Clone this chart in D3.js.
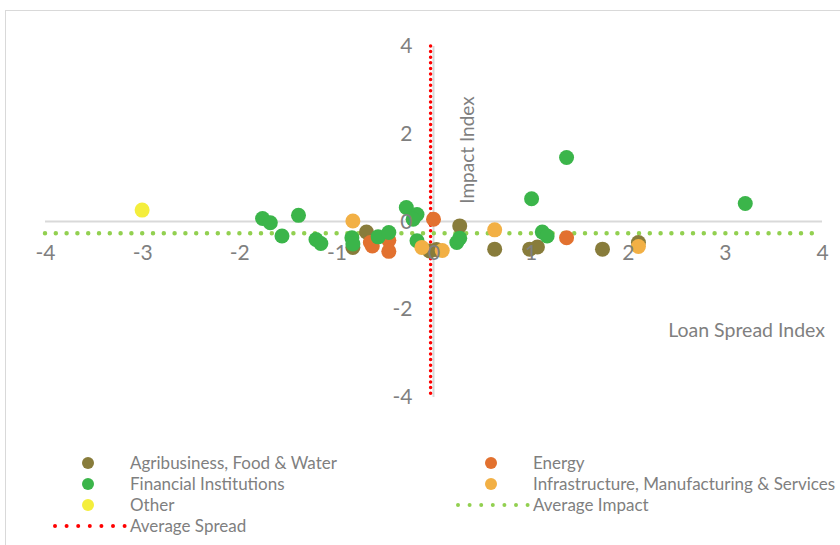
<!DOCTYPE html>
<html>
<head>
  <meta charset="utf-8">
  <script src="https://d3js.org/d3.v7.min.js"></script>
  <style>
    body { margin: 0; background: #fff; }
    text { font-family: Lato, "Open Sans", sans-serif; fill: #7f7f7f; }
  </style>
</head>
<body>
<svg id="chart" width="840" height="545"></svg>
<script>
// series: [loan spread index, impact index]
var agribusiness = [[-0.69,-0.24],[-0.83,-0.59],[-0.04,-0.67],[0.03,-0.64],[0.27,-0.10],
                    [0.63,-0.63],[0.99,-0.63],[1.07,-0.58],[1.74,-0.63],[2.11,-0.48]];
var energy = [[0.00,0.05],[-0.65,-0.48],[-0.63,-0.56],[-0.46,-0.43],[-0.46,-0.68],[1.37,-0.37]];
var financial = [[-1.76,0.07],[-1.68,-0.03],[-1.56,-0.33],[-1.39,0.14],[-1.21,-0.41],[-1.16,-0.50],
                 [-0.84,-0.37],[-0.83,-0.51],[-0.57,-0.35],[-0.46,-0.25],[-0.28,0.32],[-0.17,0.16],
                 [-0.21,0.05],[-0.17,-0.44],[0.24,-0.48],[0.27,-0.38],[1.01,0.52],[1.12,-0.24],
                 [1.17,-0.33],[1.37,1.46],[3.21,0.41]];
var infrastructure = [[-0.83,0.01],[-0.12,-0.59],[0.09,-0.66],[0.63,-0.19],[2.11,-0.57]];
var other = [[-3.00,0.26]];
var averageSpread = -0.03;
var averageImpact = -0.27;

var seriesNames = ["Agribusiness, Food & Water","Energy","Financial Institutions",
                   "Infrastructure, Manufacturing & Services","Other"];
var seriesColors = ["#887c3b","#e2712f","#3bb54a","#f2b045","#f4ee3c"];
var seriesData = [agribusiness, energy, financial, infrastructure, other];

var xTicks = [-4,-3,-2,-1,0,1,2,3,4];
var yTicks = [-4,-2,0,2,4];

var svg = d3.select("#chart");

// chart frame
svg.append("rect").attr("x",5.5).attr("y",10.5).attr("width",900).attr("height",600)
   .attr("fill","none").attr("stroke","#d9d9d9");

var x = d3.scaleLinear().domain([-4,4]).range([45,822]);
var y = d3.scaleLinear().domain([-4,4]).range([397,46]);

// axis lines
svg.append("line").attr("x1",x(-4)).attr("x2",x(4)).attr("y1",y(0)).attr("y2",y(0))
   .attr("stroke","#d9d9d9").attr("stroke-width",2);
svg.append("line").attr("x1",x(0)).attr("x2",x(0)).attr("y1",y(-4)).attr("y2",y(4))
   .attr("stroke","#d9d9d9").attr("stroke-width",2);

// average lines
svg.append("line").attr("x1",x(-4)).attr("x2",x(4))
   .attr("y1",y(averageImpact)).attr("y2",y(averageImpact))
   .attr("stroke","#92d050").attr("stroke-width",4.5).attr("stroke-linecap","round")
   .attr("stroke-dasharray","0 10.8");
svg.append("line").attr("x1",x(averageSpread)).attr("x2",x(averageSpread))
   .attr("y1",y(4)).attr("y2",y(-4))
   .attr("stroke","#ff0000").attr("stroke-width",3.5).attr("stroke-linecap","round")
   .attr("stroke-dasharray","0 5.6");

// points
seriesData.forEach(function(pts, i) {
  svg.append("g").selectAll("circle").data(pts).enter().append("circle")
     .attr("cx", d => x(d[0])).attr("cy", d => y(d[1])).attr("r", 7.5)
     .attr("fill", seriesColors[i]);
});

// tick labels (plain hyphen minus, like the original)
var fmt = d => String(d);
var xAxis = svg.append("g").attr("transform","translate(0," + y(0) + ")")
   .call(d3.axisBottom(x).tickValues(xTicks).tickSize(0).tickPadding(24).tickFormat(fmt));
var yAxis = svg.append("g").attr("transform","translate(" + x(0) + ",0)")
   .call(d3.axisLeft(y).tickValues(yTicks).tickSize(0).tickPadding(21).tickFormat(fmt));
[xAxis, yAxis].forEach(function(a) {
  a.select(".domain").remove();
  a.selectAll("text").attr("font-family",null).style("font-size","21px").style("fill","#7f7f7f");
});

// axis titles
svg.append("text").attr("transform","translate(474,150) rotate(-90)")
   .attr("text-anchor","middle").style("font-size","19px").text("Impact Index");
svg.append("text").attr("x",825).attr("y",337).attr("text-anchor","end")
   .style("font-size","19.5px").text("Loan Spread Index");

// legend
var legendItems = [
  {name: seriesNames[0], type: "dot", color: seriesColors[0], col: 0, row: 0},
  {name: seriesNames[1], type: "dot", color: seriesColors[1], col: 1, row: 0},
  {name: seriesNames[2], type: "dot", color: seriesColors[2], col: 0, row: 1},
  {name: seriesNames[3], type: "dot", color: seriesColors[3], col: 1, row: 1},
  {name: seriesNames[4], type: "dot", color: seriesColors[4], col: 0, row: 2},
  {name: "Average Impact", type: "line", color: "#92d050", col: 1, row: 2},
  {name: "Average Spread", type: "line", color: "#ff0000", col: 0, row: 3}
];
var colX = [130, 533], rowY0 = 463, rowH = 21;
var lg = svg.append("g").selectAll("g").data(legendItems).enter().append("g")
   .attr("transform", d => "translate(" + colX[d.col] + "," + (rowY0 + d.row * rowH) + ")");
lg.filter(d => d.type === "dot").append("circle")
   .attr("cx",-42).attr("cy",0).attr("r",6).attr("fill", d => d.color);
lg.filter(d => d.type === "line").append("line")
   .attr("x1",-75).attr("x2",-5).attr("y1",0).attr("y2",0)
   .attr("stroke", d => d.color).attr("stroke-width",4).attr("stroke-linecap","round")
   .attr("stroke-dasharray","0 11.6");
lg.append("text").attr("x",0).attr("y",0).attr("dy","0.35em")
   .style("font-size","17px").text(d => d.name);
</script>
</body>
</html>
